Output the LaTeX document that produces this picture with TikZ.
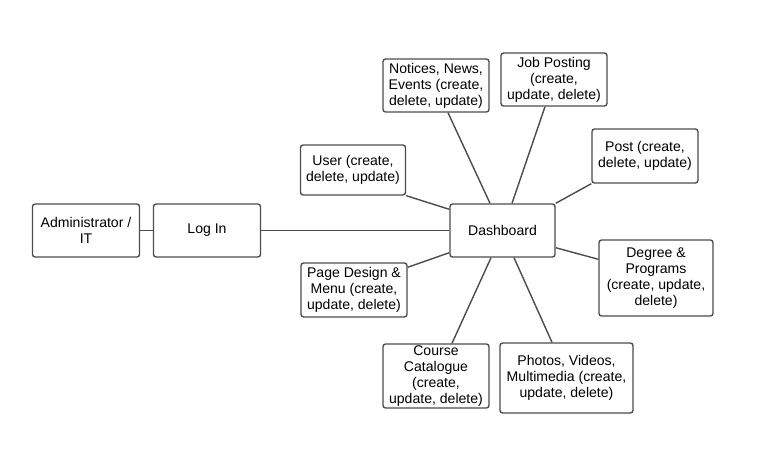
\documentclass[tikz,border=0pt]{standalone}
\usepackage{fontspec}
\setmainfont{Liberation Sans}
\usepackage{tikz}
\colorlet{bordo}{black!70}
\tikzset{
  box/.style={draw=bordo, line width=0.8pt, rounded corners=1.5pt, align=center,
    inner sep=1pt, font=\fontsize{8}{9.1}\selectfont},
  link/.style={-, draw=bordo, line width=0.8pt}
}

\begin{document}
\begin{tikzpicture}[x=0.02cm, y=-0.02cm]
\useasboundingbox (0,0) rectangle (758,470);
%NODI
\node[box, minimum width=2.14cm, minimum height=1.06cm] (admin) at (86,230.5) {Administrator /\\IT};
\node[box, minimum width=2.14cm, minimum height=1.06cm] (login) at (207,230.5) {Log In};
\node[box, minimum width=2.1cm, minimum height=1.06cm] (dash) at (502.5,230.5) {Dashboard};
\node[box, minimum width=2.1cm, minimum height=1.0cm] (user) at (353,170) {User (create,\\delete, update)};
\node[box, minimum width=2.12cm, minimum height=1.06cm] (notices) at (436,85.5) {Notices, News,\\Events (create,\\delete, update)};
\node[box, minimum width=2.12cm, minimum height=1.06cm] (job) at (554,79.5) {Job Posting\\(create,\\update, delete)};
\node[box, minimum width=2.12cm, minimum height=1.08cm] (post) at (645,156) {Post (create,\\delete, update)};
\node[box, minimum width=2.28cm, minimum height=1.52cm] (degree) at (656,278) {Degree \&\\Programs\\(create, update,\\delete)};
\node[box, minimum width=2.66cm, minimum height=1.4cm] (photos) at (566.5,378) {Photos, Videos,\\Multimedia (create,\\update, delete)};
\node[box, minimum width=2.12cm, minimum height=1.28cm, inner sep=0pt] (course) at (436,376) {Course\\Catalogue\\(create,\\update, delete)};
\node[box, minimum width=2.12cm, minimum height=1.08cm] (page) at (354,290) {Page Design \&\\Menu (create,\\update, delete)};
%COLLEGAMENTI
\draw[link] (admin) -- (login);
\draw[link] (login) -- (dash);
\draw[link] (user.south east) -- ([yshift=-0.12cm]dash.north west);
\draw[link] ([xshift=0.24cm]notices.south) -- ([xshift=-0.25cm]dash.north);
\draw[link] ([xshift=-0.18cm]job.south) -- ([xshift=0.19cm]dash.north);
\draw[link] (post.south west) -- (dash.north east);
\draw[link] ([yshift=-0.1cm]page.north east) -- ([yshift=0.1cm]dash.south west);
\draw[link] ([yshift=-0.4cm]degree.north west) -- ([yshift=0.2cm]dash.south east);
\draw[link] ([xshift=0.32cm]course.north) -- ([xshift=-0.23cm]dash.south);
\draw[link] ([xshift=-0.29cm]photos.north) -- ([xshift=0.23cm]dash.south);
\end{tikzpicture}
\end{document}
